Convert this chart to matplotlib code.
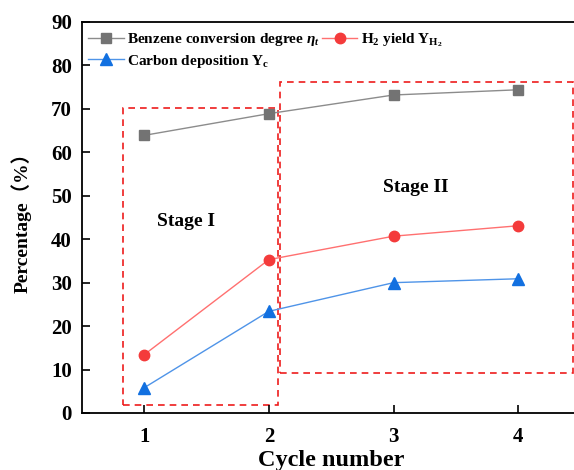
import matplotlib
matplotlib.use('Agg')
import matplotlib.pyplot as plt
from matplotlib.patches import Rectangle

plt.rcParams['font.family'] = ['Liberation Serif', 'Noto Sans CJK SC']
plt.rcParams['font.weight'] = 'bold'
plt.rcParams['mathtext.fontset'] = 'custom'
plt.rcParams['mathtext.rm'] = 'Liberation Serif:bold'
plt.rcParams['mathtext.it'] = 'Liberation Serif:italic:bold'
plt.rcParams['mathtext.bf'] = 'Liberation Serif:bold'

cycles = [1, 2, 3, 4]
benzene = [63.9, 68.9, 73.2, 74.4]
h2_yield = [13.4, 35.3, 40.7, 43.1]
carbon = [5.8, 23.4, 30.0, 30.9]

fig = plt.figure(figsize=(5.74, 4.70), dpi=100)
ax = fig.add_axes([81.7 / 574, 57 / 470, 499 / 574, 391 / 470])

l1, = ax.plot(cycles, benzene, color='#8c8c8c', lw=1, marker='s', ms=7,
              mfc='#737373', mec='#737373', label=r'Benzene conversion degree $\eta_t$')
l2, = ax.plot(cycles, h2_yield, color='#ff7070', lw=1, marker='o', ms=7.5,
              mfc='#f43b3b', mec='#f43b3b', label=r'H$_2$ yield Y$_{\mathrm{H}_2}$')
l3, = ax.plot(cycles, carbon, color='#4f94e8', lw=1, marker='^', ms=8,
              mfc='#1270e0', mec='#1270e0', label=r'Carbon deposition Y$_\mathrm{c}$')

# dashed stage boxes
ax.add_patch(Rectangle((0.832, 1.8), 2.07 - 0.832, 70.1 - 1.8, fill=False,
                       ec='#ee1c1c', ls=(0, (4, 3)), lw=1.2, clip_on=False))
ax.add_patch(Rectangle((2.09, 9.3), 4.44 - 2.09, 76.1 - 9.3, fill=False,
                       ec='#ee1c1c', ls=(0, (4, 3)), lw=1.2, clip_on=False))
ax.text(1.34, 44.0, 'Stage I', fontsize=14, fontweight='bold', ha='center', va='center')
ax.text(3.18, 52.0, 'Stage II', fontsize=14, fontweight='bold', ha='center', va='center')

ax.set_xlim(0.5, 4.5)
ax.set_ylim(0, 90)
ax.set_xticks(cycles)
ax.set_yticks(range(0, 91, 10))
ax.tick_params(direction='in', length=6, width=1.2, labelsize=15, top=False, right=False)
ax.tick_params(axis='x', pad=10)
ax.tick_params(axis='y', pad=7)
for lab in ax.get_xticklabels() + ax.get_yticklabels():
    lab.set_fontweight('bold')
for s in ax.spines.values():
    s.set_linewidth(1.3)

ax.set_xlabel('Cycle number', fontsize=17.5, fontweight='bold', labelpad=2)
ax.set_ylabel('Percentage（%）', fontsize=14, fontweight='bold', labelpad=14)

# column order: benzene + carbon in first column, H2 in second
ax.legend([l1, l3, l2], [l1.get_label(), l3.get_label(), l2.get_label()],
          loc='upper left', ncol=2, frameon=False, fontsize=11, handlelength=2.3,
          handletextpad=0.2, columnspacing=0.2, borderaxespad=0.2, labelspacing=0.3,
          bbox_to_anchor=(-0.005, 1.0))

fig.savefig('out.png', dpi=100)
